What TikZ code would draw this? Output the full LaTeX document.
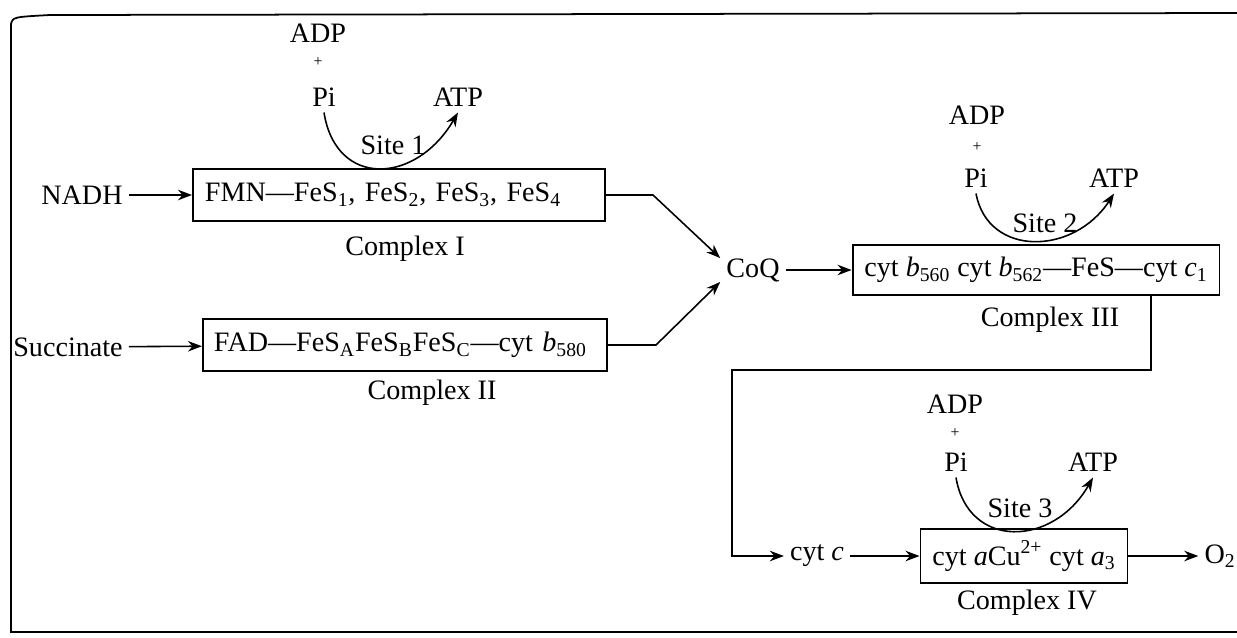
\documentclass[tikz,border=0pt]{standalone}
\usepackage{fontspec}
\setmainfont{Liberation Serif}
\usepackage{tikz}
\usetikzlibrary{calc, positioning, arrows.meta}

\begin{document}
\begin{tikzpicture}[>={Stealth[length=8pt, width=6pt]}, x=0.02cm, y=-0.02cm,
    font=\fontsize{16}{19}\selectfont,
    cplx/.style={draw, line width=1.1pt, inner ysep=2pt, minimum height=1.04cm},
    flow/.style={->, line width=0.9pt},
    site/.style={->, line width=0.9pt}]
    \useasboundingbox (0,0) rectangle (1237,637);

    % 1. Khung ngoài
    \draw[line width=1pt] (1237,632) -- (11,632) -- (11,24) .. controls (13,17) .. (50,15) -- (1237,13);

    % 2. Phức hợp I và II
    \node (nadh) at (82,195) {NADH};
    \node[cplx, anchor=west, inner xsep=0.24cm, text width=7.76cm, align=left] (c1box) at (192,195)
        {FMN---FeS\textsubscript{1}, FeS\textsubscript{2}, FeS\textsubscript{3}, FeS\textsubscript{4}};
    \node (c1lab) at (405,249) {Complex I};
    \node (succ) at (68,347) {Succinate};
    \node[cplx, anchor=west, inner xsep=0.22cm, text width=7.64cm, align=left] (c2box) at (202,345)
        {FAD---FeS\textsubscript{A}FeS\textsubscript{B}FeS\textsubscript{C}---cyt \textit{b}\textsubscript{580}};
    \node (c2lab) at (432,393) {Complex II};

    % 3. CoQ và phức hợp III
    \node (coq) at (753,270) {CoQ};
    \node[cplx, inner xsep=2pt, minimum width=7.34cm, minimum height=1.0cm] (c3box) at (1036,270)
        {cyt \textit{b}\textsubscript{560} cyt \textit{b}\textsubscript{562}---FeS---cyt \textit{c}\textsubscript{1}};
    \node (c3lab) at (1050,320) {Complex III};

    % 4. cyt c, phức hợp IV và O2
    \node (cytc) at (817,556) {cyt \textit{c}};
    \node[cplx, minimum width=207*0.02cm, minimum height=1.08cm] (c4box) at (1024,556)
        {cyt \textit{a}Cu\textsuperscript{2+} cyt \textit{a}\textsubscript{3}};
    \node (c4lab) at (1027,603) {Complex IV};
    \node (o2) at (1220,556) {O\textsubscript{2}};

    % 5. Các vị trí tạo ATP
    \node (adp1) at (318,33) {ADP};
    \node[font=\small] (plus1) at (318,62) {+};
    \node (pi1) at (324,97) {Pi};
    \node (atp1) at (458,97) {ATP};
    \node (site1) at (393,145) {Site 1};
    \draw[site] (pi1.south) .. controls +(12,76) and +(-42,72) .. (atp1.south);

    \node (adp2) at (977,115) {ADP};
    \node[font=\small] (plus2) at (977,147) {+};
    \node (pi2) at (976,178) {Pi};
    \node (atp2) at (1114,178) {ATP};
    \node (site2) at (1045,223) {Site 2};
    \draw[site] (pi2.south) .. controls +(12,64) and +(-40,62) .. (atp2.south);

    \node (adp3) at (955,404) {ADP};
    \node[font=\small] (plus3) at (955,433) {+};
    \node (pi3) at (956,462) {Pi};
    \node (atp3) at (1093,462) {ATP};
    \node (site3) at (1020,508) {Site 3};
    \draw[site] (pi3.south) .. controls +(12,72) and +(-40,70) .. (atp3.south);

    % 6. Các mũi tên nối
    \coordinate (j1) at (653,195);
    \coordinate (j2) at (656,345);
    \coordinate (k1) at (1151,370);
    \coordinate (k2) at (732,370);
    \draw[flow] (nadh) -- (c1box);
    \draw[flow] (succ) -- (c2box);
    \draw[flow] (c1box.east) -- (j1) -- (coq.160);
    \draw[flow] (c2box.east) -- (j2) -- (coq.200);
    \draw[flow] (coq) -- (c3box);
    \draw[flow] (c3box.south -| k1) -- (k1) -- (k2) |- (cytc);
    \draw[flow] (cytc) -- (c4box);
    \draw[flow] (c4box) -- (o2);
\end{tikzpicture}
\end{document}
